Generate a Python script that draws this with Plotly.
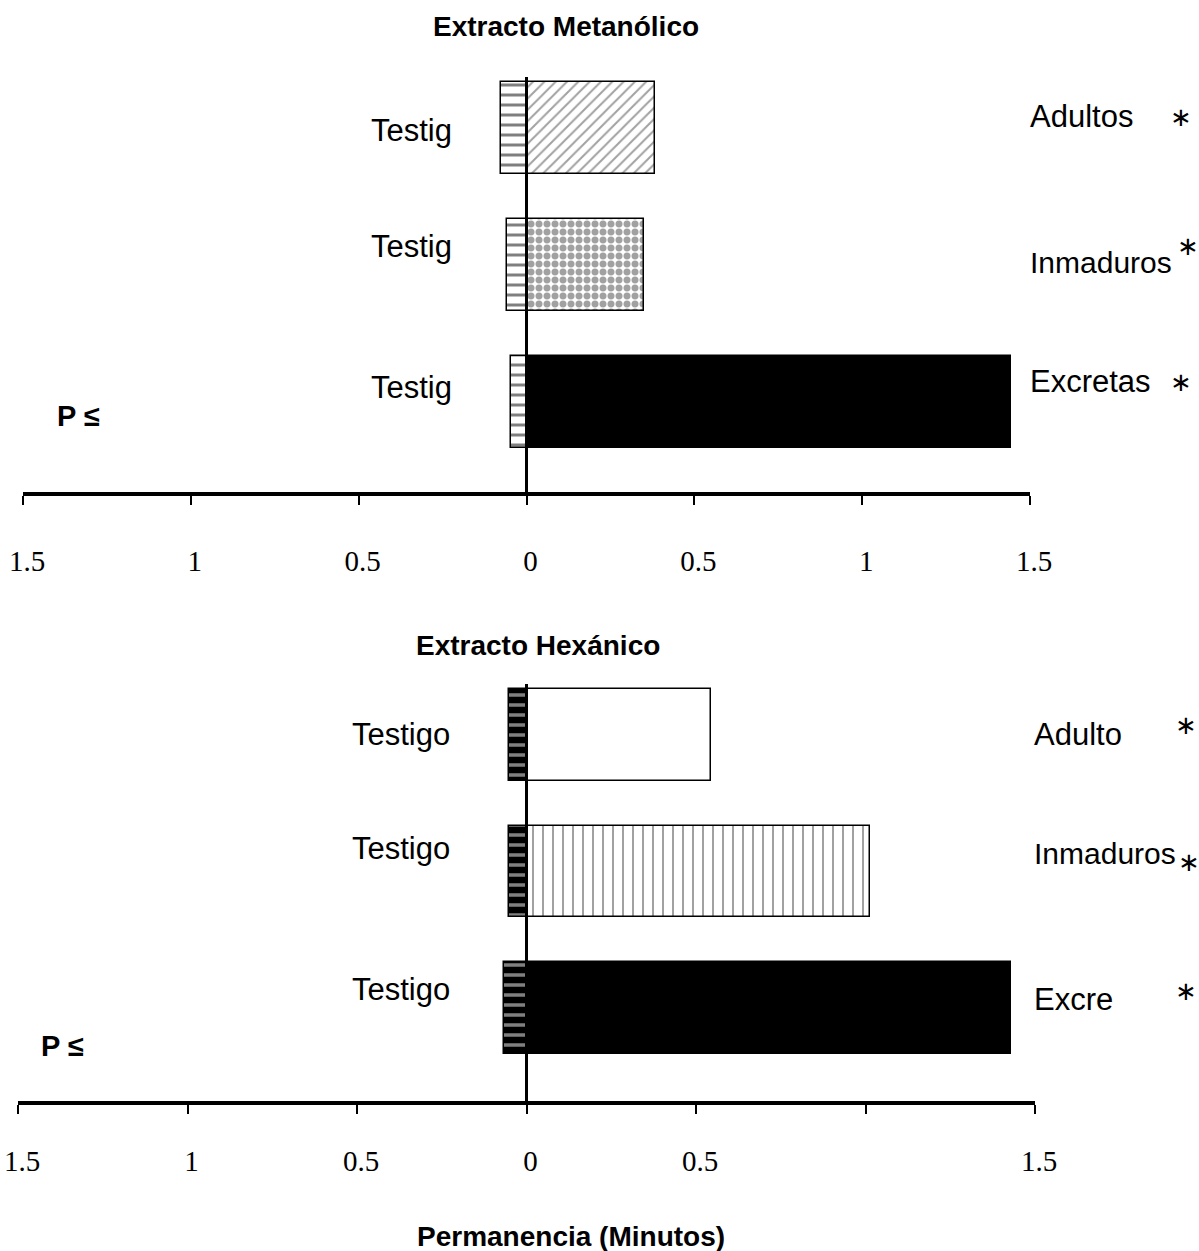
import plotly.graph_objects as go

W, H = 1199, 1251

# ---------------- data ----------------
top_title = "Extracto Metanólico"
bottom_title = "Extracto Hexánico"
x_title = "Permanencia (Minutos)"

top_categories = ["Excretas", "Inmaduros", "Adultos"]
top_testigo = [-0.045, -0.057, -0.075]
top_extract = [1.443, 0.35, 0.383]
top_control_labels = ["Testig", "Testig", "Testig"]

bot_categories = ["Excre", "Inmaduros", "Adulto"]
bot_testigo = [-0.065, -0.053, -0.053]
bot_extract = [1.428, 1.012, 0.545]
bot_control_labels = ["Testigo", "Testigo", "Testigo"]

tick_vals = [-1.5, -1, -0.5, 0, 0.5, 1, 1.5]
top_tick_text = ["1.5", "1", "0.5", "0", "0.5", "1", "1.5"]
bot_tick_text = ["1.5", "1", "0.5", "0", "0.5", "", "1.5"]

# ---------------- helpers ----------------
def px(x):
    return x / W

def py(y):
    return 1 - y / H

ypos = [0, 1, 2]

fig = go.Figure()

# top panel
fig.add_trace(go.Bar(
    y=ypos, x=top_testigo, orientation="h", width=0.67,
    xaxis="x", yaxis="y", showlegend=False,
    marker=dict(color="white", line=dict(color="black", width=1.5),
                pattern=dict(shape="-", fgcolor="black", bgcolor="white",
                             size=10, solidity=0.3)),
))
fig.add_trace(go.Bar(
    y=ypos, x=top_extract, orientation="h", width=0.67,
    xaxis="x", yaxis="y", showlegend=False,
    marker=dict(color=["black", "white", "white"],
                line=dict(color="black", width=1.5),
                pattern=dict(shape=["", ".", "/"],
                             fgcolor="black", bgcolor=["black", "white", "white"],
                             size=[8, 8, 8], solidity=[0.3, 0.6, 0.25])),
))

# bottom panel
fig.add_trace(go.Bar(
    y=ypos, x=bot_testigo, orientation="h", width=0.67,
    xaxis="x2", yaxis="y2", showlegend=False,
    marker=dict(color="black", line=dict(color="black", width=1.5),
                pattern=dict(shape="-", fgcolor="white", bgcolor="black",
                             size=10, solidity=0.35)),
))
fig.add_trace(go.Bar(
    y=ypos, x=bot_extract, orientation="h", width=0.67,
    xaxis="x2", yaxis="y2", showlegend=False,
    marker=dict(color=["black", "white", "white"],
                line=dict(color="black", width=1.5),
                pattern=dict(shape=["", "|", ""],
                             fgcolor="black", bgcolor=["black", "white", "white"],
                             size=[8, 10, 8], solidity=[0.3, 0.2, 0.3])),
))

axis_common = dict(
    range=[-1.5, 1.5], showgrid=False, zeroline=False, automargin=False,
    showline=True, linecolor="black", linewidth=4,
    ticks="outside", ticklen=9, tickwidth=2, tickcolor="black",
    tickvals=tick_vals, ticklabeloverflow="allow", ticklabelshift=4,
    tickfont=dict(family="Liberation Serif", size=29, color="black"),
    fixedrange=True,
)

# top y mapping: Excretas center at pixel 402, 137 px per unit, axis at 492, top 60
top_y_range = [-(492 - 402) / 137, (402 - 60) / 137]
bot_y_range = [-(1101 - 1008) / 136.5, (1008 - 670) / 136.5]

fig.update_layout(
    width=W, height=H, margin=dict(l=0, r=0, t=0, b=0, autoexpand=False),
    paper_bgcolor="white", plot_bgcolor="rgba(0,0,0,0)",
    barmode="overlay", bargap=0,
    xaxis=dict(domain=[px(23), px(1030)], anchor="y", ticktext=top_tick_text,
               ticklabelstandoff=31, **axis_common),
    yaxis=dict(domain=[py(492), py(60)], range=top_y_range, visible=False,
               fixedrange=True, automargin=False),
    xaxis2=dict(domain=[px(18), px(1035)], anchor="y2", ticktext=bot_tick_text,
                ticklabelstandoff=22, **axis_common),
    yaxis2=dict(domain=[py(1101), py(670)], range=bot_y_range, visible=False,
                fixedrange=True, automargin=False),
    font=dict(family="Liberation Sans", color="black"),
)

# zero lines
fig.add_shape(type="line", xref="x", yref="y", x0=0, x1=0,
              y0=top_y_range[0], y1=(402 - 77) / 137,
              line=dict(color="black", width=3))
fig.add_shape(type="line", xref="x2", yref="y2", x0=0, x1=0,
              y0=bot_y_range[0], y1=(1008 - 684) / 136.5,
              line=dict(color="black", width=3))

ann = []
def text(x, y, s, size=31, bold=False, xanchor="center", family="Liberation Sans"):
    if bold:
        s = "<b>" + s + "</b>"
    ann.append(dict(x=px(x), y=py(y), xref="paper", yref="paper", text=s,
                    showarrow=False, xanchor=xanchor, yanchor="middle",
                    borderpad=0,
                    font=dict(family=family, size=size, color="black")))

# titles
text(566, 27, top_title, size=28, bold=True)
text(538, 645, bottom_title, size=28, bold=True)
text(571, 1236, x_title, size=28, bold=True)

# top panel labels
for lab, yy in zip(top_control_labels, [388, 246, 131]):
    text(453, yy, lab, xanchor="right")
for lab, yy, sz in zip(top_categories, [382, 263, 117], [31, 30, 31]):
    text(1029, yy, lab, size=sz, xanchor="left")
for xx, yy in [(1181, 382), (1188, 246), (1181, 117)]:
    text(xx, yy, "∗", size=26, family="DejaVu Sans")
text(56, 416, "P ≤", size=29, bold=True, xanchor="left")

# bottom panel labels
for lab, yy in zip(bot_control_labels, [989, 848, 734]):
    text(451, yy, lab, xanchor="right")
for lab, yy, sz in zip(bot_categories, [999, 853, 734], [31, 30, 31]):
    text(1033, yy, lab, size=sz, xanchor="left")
for xx, yy in [(1186, 991), (1189, 862), (1186, 725)]:
    text(xx, yy, "∗", size=26, family="DejaVu Sans")
text(40, 1046, "P ≤", size=29, bold=True, xanchor="left")

fig.update_layout(annotations=ann)

fig.write_html("out.html")
